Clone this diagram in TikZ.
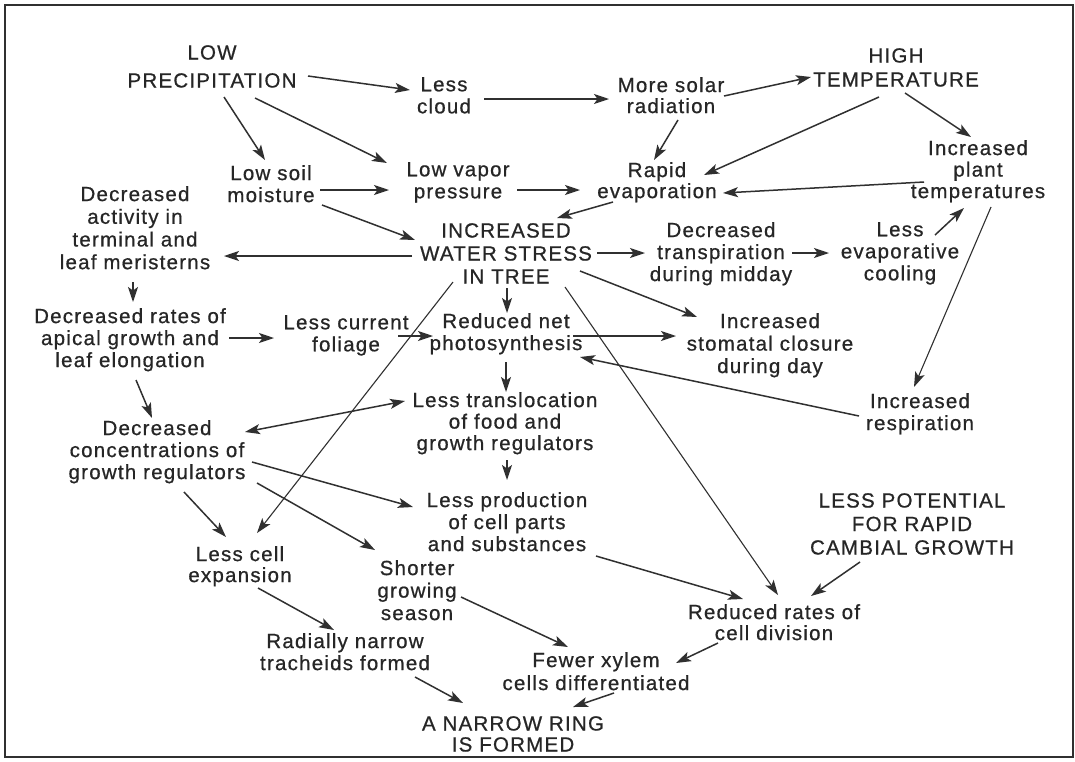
\documentclass[tikz,border=0pt]{standalone}
\usepackage{fontspec}
\setmainfont{Liberation Sans}[LetterSpace=6,FakeBold=0.7]
\usetikzlibrary{arrows.meta}
\definecolor{ink}{HTML}{262626}
\definecolor{linec}{HTML}{303030}
\newcommand\cx[5][]{\draw[arr,#1] ([shift={#3}]#2.north) -- ([shift={#5}]#4.north);}
\begin{document}
\begin{tikzpicture}[x=1pt,y=-1pt,
  txt/.style={font=\fontsize{20.5}{22}\selectfont, align=center, inner sep=0pt, anchor=north, text=ink},
  lsp/.style={font=\fontsize{20.5}{#1}\selectfont},
  arr/.style={draw=linec, line width=1.5pt, -{Stealth[length=15pt,width=10pt,inset=3.5pt]}},
  thin/.style={line width=1.1pt},
  dbl/.style={{Stealth[length=15pt,width=10pt,inset=3.5pt]}-{Stealth[length=15pt,width=10pt,inset=3.5pt]}},
  frame/.style={draw=linec, line width=1.8pt}]
\useasboundingbox (0,0) rectangle (1075,761);
\fill[white] (0,0) rectangle (1075,761);
\draw[frame] (5,5) rectangle (1073,757);

\node[txt, lsp=28] (lowprec) at (212,45) {LOW\\PRECIPITATION};
\node[txt] (lesscloud) at (444,77) {Less\\cloud};
\node[txt, lsp=21] (moresolar) at (671,77) {More solar\\radiation};
\node[txt, lsp=24] (hightemp) at (896,48) {HIGH\\TEMPERATURE};
\node[txt] (lowsoil) at (271,165) {Low soil\\moisture};
\node[txt] (lowvapor) at (458,162) {Low vapor\\pressure};
\node[txt, lsp=21] (rapidevap) at (657,162) {Rapid\\evaporation};
\node[txt, lsp=21.5] (plantemp) at (978,140) {Increased\\plant\\temperatures};
\node[txt, lsp=22.7] (decact) at (135,186) {Decreased\\activity in\\terminal and\\leaf meristerns};
\node[txt, lsp=23] (waterstress) at (506,223) {INCREASED\\WATER STRESS\\IN TREE};
\node[txt] (dectransp) at (721,222) {Decreased\\transpiration\\during midday};
\node[txt] (evapcool) at (900,222) {Less\\evaporative\\cooling};
\node[txt] (decrates) at (130,308) {Decreased rates of\\apical growth and\\leaf elongation};
\node[txt] (foliage) at (346,315) {Less current\\foliage};
\node[txt] (rednet) at (506,313) {Reduced net\\photosynthesis};
\node[txt, lsp=22.5] (stomatal) at (770,313) {Increased\\stomatal closure\\during day};
\node[txt] (respiration) at (920,393) {Increased\\respiration};
\node[txt, lsp=21.5] (transloc) at (505,392) {Less translocation\\of food and\\growth regulators};
\node[txt] (decconc) at (157,420) {Decreased\\concentrations of\\growth regulators};
\node[txt] (lessprod) at (507,492) {Less production\\of cell parts\\and substances};
\node[txt, lsp=23.5] (lesspot) at (912,493) {LESS POTENTIAL\\FOR RAPID\\CAMBIAL GROWTH};
\node[txt, lsp=21] (cellexp) at (240,546) {Less cell\\expansion};
\node[txt, lsp=22.5] (shorter) at (417,560) {Shorter\\growing\\season};
\node[txt, lsp=21] (redrates) at (774,604) {Reduced rates of\\cell division};
\node[txt] (radially) at (345,633) {Radially narrow\\tracheids formed};
\node[txt, lsp=23] (fewer) at (596,652) {Fewer xylem\\cells differentiated};
\node[txt, lsp=21] (ring) at (513,716) {A NARROW RING\\IS FORMED};

\cx{lowprec}{(96,31)}{lesscloud}{(-34,13)}
\cx{lowprec}{(12,52)}{lowsoil}{(-6,-5)}
\cx{lowprec}{(43,53)}{lowvapor}{(-71,1)}
\cx{lowsoil}{(49,25)}{lowvapor}{(-69,28)}
\cx{lowsoil}{(51,40)}{waterstress}{(-91,17)}
\cx{waterstress}{(-94,33)}{decact}{(89,70)}
\cx{lesscloud}{(40,22)}{moresolar}{(-62,22)}
\cx{lowvapor}{(59,28)}{rapidevap}{(-77,28)}
\cx{moresolar}{(53,19)}{hightemp}{(-85,29)}
\cx{moresolar}{(7,43)}{rapidevap}{(-3,-2)}
\cx{hightemp}{(-17,49)}{rapidevap}{(47,13)}
\cx{hightemp}{(9,45)}{plantemp}{(-7,-3)}
\cx{plantemp}{(-54,42)}{rapidevap}{(66,31)}
\cx{rapidevap}{(-44,40)}{waterstress}{(51,-5)}
\cx{evapcool}{(35,13)}{plantemp}{(-14,68)}
\cx[thin]{plantemp}{(13,67)}{respiration}{(-6,-6)}
\cx{waterstress}{(91,30)}{dectransp}{(-76,31)}
\cx{dectransp}{(71,31)}{evapcool}{(-71,31)}
\cx{waterstress}{(74,48)}{stomatal}{(-73,4)}
\cx[thin]{waterstress}{(59,64)}{redrates}{(4,-9)}
\cx{rednet}{(67,23)}{stomatal}{(-94,23)}
\cx{respiration}{(-61,23)}{rednet}{(74,44)}
\cx{waterstress}{(1,65)}{rednet}{(1,0)}
\cx[thin]{waterstress}{(-53,59)}{cellexp}{(17,-13)}
\cx{decact}{(-2,96)}{decrates}{(3,-6)}
\cx{decrates}{(99,30)}{foliage}{(-72,23)}
\cx{foliage}{(52,21)}{rednet}{(-73,23)}
\cx{decrates}{(6,72)}{decconc}{(-5,-2)}
\cx[dbl]{decconc}{(88,12)}{transloc}{(-100,9)}
\cx{decconc}{(95,42)}{lessprod}{(-94,15)}
\cx{decconc}{(100,63)}{shorter}{(-42,-10)}
\cx{decconc}{(27,72)}{cellexp}{(-14,-9)}
\cx{rednet}{(0,49)}{transloc}{(1,0)}
\cx{transloc}{(2,68)}{lessprod}{(0,-12)}
\cx{lessprod}{(89,64)}{redrates}{(-31,-5)}
\cx{lesspot}{(-52,69)}{redrates}{(37,-8)}
\cx{cellexp}{(18,42)}{radially}{(-11,-3)}
\cx{shorter}{(44,37)}{fewer}{(-28,-5)}
\cx{redrates}{(-56,39)}{fewer}{(80,11)}
\cx{radially}{(70,44)}{ring}{(-50,-13)}
\cx{fewer}{(18,41)}{ring}{(60,-9)}
\end{tikzpicture}
\end{document}
